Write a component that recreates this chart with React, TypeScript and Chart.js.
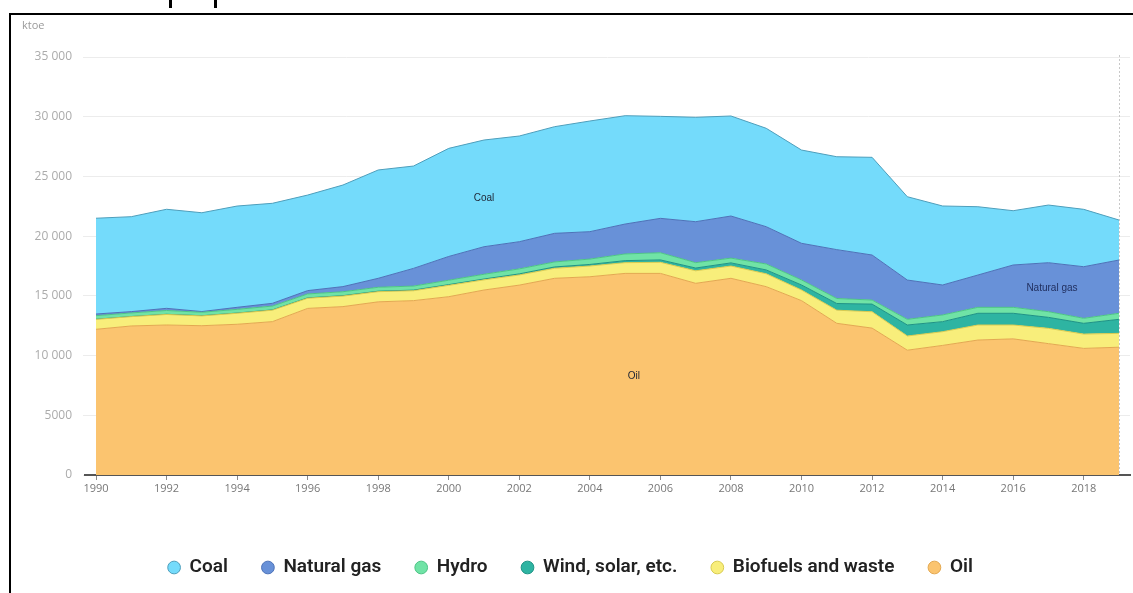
import React, { useEffect, useRef } from "react";
import { Chart, registerables } from "chart.js";

Chart.register(...registerables);

const years = [
  1990, 1991, 1992, 1993, 1994, 1995, 1996, 1997, 1998, 1999,
  2000, 2001, 2002, 2003, 2004, 2005, 2006, 2007, 2008, 2009,
  2010, 2011, 2012, 2013, 2014, 2015, 2016, 2017, 2018, 2019,
];

const oil = [
  12200, 12480, 12560, 12500, 12620, 12840, 13950, 14100, 14500, 14600,
  14930, 15490, 15900, 16470, 16600, 16880, 16880, 16050, 16470, 15770,
  14600, 12700, 12300, 10450, 10850, 11300, 11400, 11000, 10600, 10700,
];
const biofuels = [
  830, 780, 880, 820, 920, 960, 850, 880, 850, 830,
  950, 850, 850, 840, 900, 900, 930, 1050, 1030, 1080,
  890, 1100, 1370, 1190, 1150, 1260, 1160, 1280, 1200, 1160,
];
const windSolar = [
  10, 10, 15, 15, 20, 25, 30, 35, 40, 50,
  60, 70, 90, 110, 130, 170, 200, 230, 260, 320,
  420, 560, 640, 920, 840, 980, 980, 920, 900, 1175,
];
const hydro = [
  300, 300, 320, 290, 310, 320, 330, 330, 330, 340,
  370, 400, 420, 420, 450, 560, 600, 450, 400, 500,
  420, 420, 340, 475, 560, 500, 500, 475, 420, 505,
];
const naturalGas = [
  140, 110, 180, 60, 170, 230, 280, 430, 750, 1480,
  1990, 2305, 2275, 2395, 2295, 2505, 2880, 3430, 3525, 3120,
  3070, 4090, 3770, 3290, 2510, 2705, 3545, 4100, 4320, 4460,
];
const coal = [
  8020, 7950, 8295, 8275, 8480, 8375, 8000, 8505, 9070, 8570,
  9050, 8935, 8850, 8930, 9265, 9070, 8540, 8740, 8375, 8240,
  7810, 7780, 8180, 6975, 6615, 5720, 4545, 4830, 4805, 3350,
];

const tickYears = [
  1990, 1992, 1994, 1996, 1998, 2000, 2002, 2004, 2006, 2008,
  2010, 2012, 2014, 2016, 2018,
];

const unitLabel = "ktoe";

const areaNotes = [
  { text: "Coal", year: 2001.0, value: 23200, color: "#1d2433" },
  { text: "Oil", year: 2005.25, value: 8300, color: "#1d2433" },
  { text: "Natural gas", year: 2017.1, value: 15600, color: "#1f2d5c" },
];

const series = [
  { label: "Oil", data: oil, fill: "#FBC46F", line: "#E3A850" },
  { label: "Biofuels and waste", data: biofuels, fill: "#F8EE7B", line: "#D8CB50" },
  { label: "Wind, solar, etc.", data: windSolar, fill: "#2EB4A2", line: "#1E9385" },
  { label: "Hydro", data: hydro, fill: "#70E3A6", line: "#4CC485" },
  { label: "Natural gas", data: naturalGas, fill: "#6891D8", line: "#4C72B8" },
  { label: "Coal", data: coal, fill: "#74DBFB", line: "#4E9EBB" },
];

function fmt(v: number): string {
  if (v >= 10000) {
    const th = Math.floor(v / 1000);
    const rest = String(v % 1000).padStart(3, "0");
    return `${th} ${rest}`;
  }
  return String(v);
}

const overlayPlugin = {
  id: "overlay",
  beforeDatasetsDraw(chart: any) {
    const { ctx, chartArea, scales } = chart;
    const x = scales.x;
    const px = x.getPixelForValue(years[years.length - 1]);
    ctx.save();
    ctx.strokeStyle = "#c8c8c8";
    ctx.lineWidth = 1;
    ctx.setLineDash([2, 2]);
    ctx.beginPath();
    ctx.moveTo(Math.round(px) + 0.5, chartArea.top - 2);
    ctx.lineTo(Math.round(px) + 0.5, chartArea.bottom);
    ctx.stroke();
    ctx.restore();
  },
  afterDatasetsDraw(chart: any) {
    const { ctx, chartArea, scales } = chart;
    const x = scales.x;
    const y = scales.y;
    ctx.save();
    ctx.font = "10px 'Liberation Sans', Arial, sans-serif";
    ctx.textAlign = "center";
    ctx.textBaseline = "middle";
    for (const n of areaNotes) {
      ctx.fillStyle = n.color;
      ctx.fillText(n.text, x.getPixelForValue(n.year), y.getPixelForValue(n.value));
    }
    ctx.font = "11px 'Open Sans', sans-serif";
    ctx.fillStyle = "#9a9a9a";
    ctx.textAlign = "left";
    ctx.fillText(unitLabel, chartArea.left - 63, chartArea.top - 31);
    ctx.restore();
  },
};

export default function App() {
  const canvasRef = useRef<HTMLCanvasElement | null>(null);

  useEffect(() => {
    if (!canvasRef.current) return;
    const chart = new Chart(canvasRef.current, {
      type: "line",
      data: {
        labels: years,
        datasets: series.map((s, i) => ({
          label: s.label,
          data: years.map((yr, j) => ({ x: yr, y: s.data[j] })),
          backgroundColor: s.fill,
          borderColor: s.line,
          borderWidth: 1,
          fill: i === 0 ? "origin" : "-1",
          pointRadius: 0,
          pointHoverRadius: 0,
          tension: 0,
          pointStyle: "circle",
        })),
      },
      options: {
        animation: false,
        responsive: true,
        maintainAspectRatio: false,
        layout: { padding: { top: 42, right: 3, left: 0, bottom: 0 } },
        plugins: {
          tooltip: { enabled: false },
          legend: {
            position: "bottom",
            labels: {
              usePointStyle: true,
              boxWidth: 12,
              boxHeight: 9,
              padding: 34,
              color: "#222",
              font: { family: "Roboto, 'Noto Sans', sans-serif", size: 19, weight: "600" },
              sort: (a: any, b: any) => b.datasetIndex - a.datasetIndex,
            },
          },
        },
        scales: {
          x: {
            type: "linear",
            min: 1989.688,
            max: 2019.312,
            afterBuildTicks: (scale: any) => {
              scale.ticks = tickYears.map((v) => ({ value: v }));
            },
            afterFit: (scale: any) => {
              scale.height = 49;
            },
            grid: {
              drawOnChartArea: false,
              drawTicks: true,
              tickLength: 5,
              color: "#8a8a8a",
            },
            border: { display: true, color: "#555", width: 2 },
            ticks: {
              padding: 2,
              color: "#777",
              maxRotation: 0,
              autoSkip: false,
              font: { family: "'Open Sans', sans-serif", size: 11 },
              callback: (v: any) => String(v),
            },
          },
          y: {
            stacked: true,
            min: 0,
            max: 35000,
            afterFit: (scale: any) => {
              scale.width = 74;
            },
            grid: {
              color: "#ececec",
              lineWidth: 1,
              drawTicks: true,
              tickLength: 2,
            },
            border: { display: false },
            ticks: {
              stepSize: 5000,
              padding: 11,
              color: "#ababab",
              font: { family: "'Open Sans', sans-serif", size: 12 },
              callback: (v: any) => fmt(Number(v)),
            },
          },
        },
      },
      plugins: [overlayPlugin],
    } as any);
    return () => chart.destroy();
  }, []);

  return (
    <>
      <div style={{ position: "absolute", left: 169, top: 0, width: 3, height: 8, background: "#000" }} />
      <div style={{ position: "absolute", left: 214, top: 0, width: 3, height: 8, background: "#000" }} />
      <div
        style={{
          position: "absolute",
          left: 9,
          top: 13,
          width: 1124,
          height: 580,
          borderLeft: "2px solid #000",
          borderTop: "2px solid #000",
          boxSizing: "border-box",
          overflow: "hidden",
          background: "#fff",
        }}
      >
        <div style={{ position: "relative", width: 1122, height: 572 }}>
          <canvas ref={canvasRef} />
        </div>
      </div>
    </>
  );
}
